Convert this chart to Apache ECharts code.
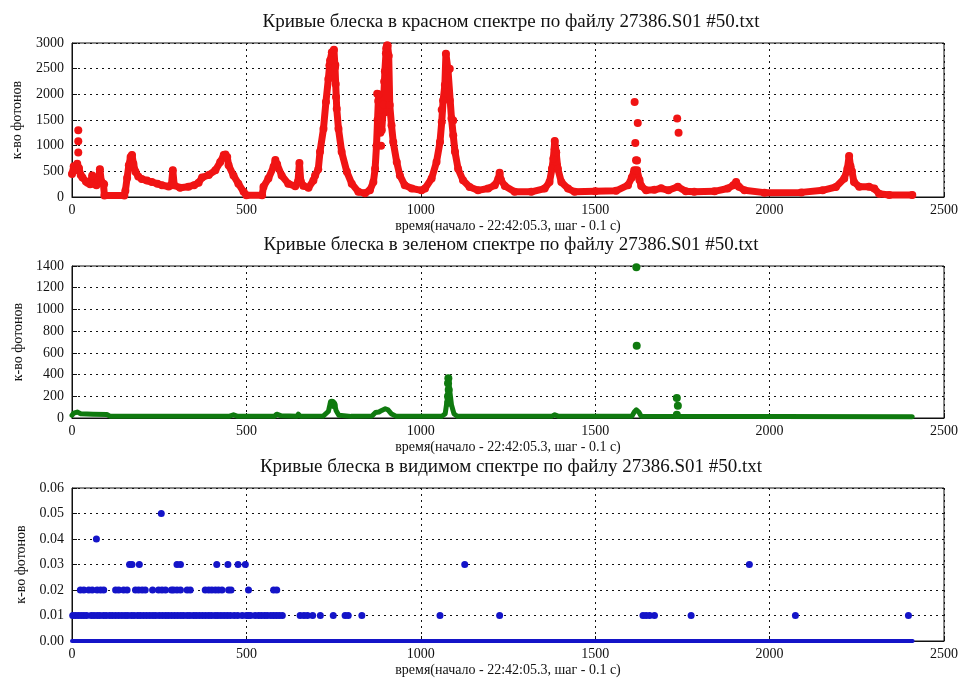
<!DOCTYPE html>
<html>
<head>
<meta charset="utf-8">
<script src="https://cdn.jsdelivr.net/npm/echarts@6/dist/echarts.min.js"></script>
<style>
  html, body { margin: 0; padding: 0; background: #fff; }
  #chart { width: 958px; height: 682px; }
</style>
</head>
<body>
<div id="chart"></div>
<script>
// подписи
const titles = [
  'Кривые блеска в красном спектре по файлу 27386.S01 #50.txt',
  'Кривые блеска в зеленом спектре по файлу 27386.S01 #50.txt',
  'Кривые блеска в видимом спектре по файлу 27386.S01 #50.txt'
];
const xName = 'время(начало - 22:42:05.3, шаг - 0.1 с)';
const yName = 'к-во фотонов';
const xTicks = [0, 500, 1000, 1500, 2000, 2500];

// красный: основная кривая (сплошная полоса точек) [время, фотоны]
const redTrace = [
  [0, 450], [5, 600], [10, 520], [15, 650], [20, 560], [25, 430], [30, 380], [40, 300],
  [45, 280], [52, 250], [58, 420], [62, 260], [70, 230], [76, 330], [80, 540], [84, 300],
  [90, 260], [92, 250], [93, 30], [150, 30], [153, 120], [158, 370], [163, 620], [168, 780],
  [172, 820], [176, 650], [182, 490], [190, 400], [200, 350], [215, 320], [229, 290],
  [245, 260], [258, 230], [277, 205], [285, 230], [289, 520], [293, 230], [310, 180],
  [334, 200], [350, 230], [363, 280], [373, 380], [392, 430], [411, 520], [425, 680],
  [435, 820], [440, 830], [445, 780], [449, 620], [463, 420], [477, 260], [492, 100],
  [500, 35], [545, 35], [549, 200], [563, 360], [578, 590], [583, 720], [588, 640],
  [601, 420], [620, 260], [640, 210], [648, 300], [652, 660], [656, 300], [663, 220],
  [678, 180], [692, 320], [697, 420], [706, 540], [711, 880], [721, 1330], [728, 1850],
  [735, 2300], [740, 2660], [745, 2820], [751, 2870], [754, 2530], [756, 2200], [759, 1720],
  [764, 1330], [773, 880], [788, 490], [802, 260], [821, 100], [840, 75], [854, 130],
  [864, 290], [869, 550], [873, 1000], [876, 1500], [879, 2000], [883, 1700], [888, 1300],
  [893, 1800], [897, 2450], [901, 2900], [905, 2950], [908, 2750], [911, 1790], [916, 1400],
  [921, 1070], [931, 680], [940, 420], [954, 230], [974, 165], [1002, 130], [1012, 165],
  [1031, 360], [1045, 680], [1055, 1070], [1060, 1460], [1064, 1880], [1069, 2180],
  [1072, 2790], [1078, 2470], [1083, 2500], [1088, 1530], [1093, 1200], [1098, 880],
  [1107, 550], [1121, 325], [1140, 195], [1164, 130], [1193, 165], [1212, 230], [1222, 350],
  [1226, 470], [1230, 330], [1241, 215], [1269, 100], [1317, 100], [1355, 165], [1369, 290],
  [1376, 550], [1380, 750], [1384, 1090], [1388, 870], [1393, 550], [1403, 290], [1422, 165],
  [1441, 100], [1500, 110], [1560, 120], [1594, 230], [1605, 380], [1612, 520], [1620, 520],
  [1627, 330], [1632, 215], [1646, 130], [1670, 140], [1689, 170], [1710, 130], [1737, 200],
  [1760, 110], [1784, 100], [1842, 110], [1880, 165], [1896, 230], [1904, 290], [1912, 200],
  [1928, 130], [1985, 85], [2091, 90], [2152, 130], [2190, 195], [2214, 360], [2223, 550],
  [2228, 800], [2232, 600], [2236, 500], [2242, 290], [2257, 200], [2285, 200], [2300, 165],
  [2314, 65], [2343, 40], [2409, 40]
];
// красный: отдельные точки
const redDots = [
  [18, 1300], [18, 1085], [18, 865], [738, 2560], [745, 2680], [748, 2800], [755, 2570],
  [757, 1950], [875, 2010], [878, 1870], [880, 1600], [884, 1250], [886, 1000], [898, 1650],
  [895, 2250], [900, 2800], [903, 2950], [1060, 1700], [1074, 2480], [1083, 1880],
  [1093, 1490], [1384, 930], [1388, 860], [1386, 730], [1390, 620], [1613, 1850],
  [1622, 1440], [1615, 1050], [1617, 715], [1620, 710], [1735, 1530], [1739, 1250]
];

// зеленый
const greenTrace = [
  [0, 25], [5, 45], [15, 55], [25, 40], [60, 35], [100, 32], [110, 15], [450, 15], [463, 30],
  [475, 15], [580, 15], [587, 35], [600, 20], [645, 15], [649, 35], [655, 15], [720, 18],
  [735, 60], [740, 130], [745, 150], [752, 140], [757, 70], [765, 25], [800, 15], [860, 18],
  [870, 50], [880, 55], [888, 70], [898, 85], [906, 75], [915, 40], [930, 15], [1060, 15],
  [1070, 40], [1075, 150], [1078, 250], [1080, 355], [1083, 250], [1088, 120], [1095, 40],
  [1105, 15], [1222, 15], [1227, 30], [1232, 15], [1375, 15], [1384, 30], [1395, 15],
  [1605, 15], [1612, 55], [1618, 75], [1625, 55], [1632, 15], [2409, 12]
];
const greenDots = [
  [1618, 1388], [1619, 665], [1734, 184], [1737, 113], [1734, 30],
  [1079, 365], [1078, 320], [1080, 260], [1078, 200], [1079, 140], [745, 140], [750, 120]
];

// видимый
const blueZero = [[0, 0], [2410, 0]];
const blue001 = [2, 10, 18, 26, 34, 42, 55, 63, 72, 80, 90, 98, 108, 116, 125, 134, 143, 152,
  160, 170, 178, 188, 196, 205, 214, 223, 232, 240, 250, 259, 268, 276, 285, 294, 303, 312,
  320, 330, 338, 348, 356, 365, 374, 383, 392, 400, 410, 418, 427, 436, 445, 454, 465, 475,
  488, 500, 506, 512, 525, 535, 543, 552, 560, 570, 578, 586, 594, 603, 654, 665, 675, 690,
  712, 749, 783, 792, 831, 1055, 1226, 1637, 1646, 1656, 1670, 1775, 2074, 2398];
const blue002 = [24, 34, 48, 58, 72, 82, 91, 125, 134, 148, 158, 182, 191, 201, 210, 231,
  248, 258, 268, 285, 291, 301, 311, 330, 339, 382, 392, 401, 411, 420, 430, 449, 456, 506,
  578, 587];
const blue003 = [165, 172, 193, 301, 311, 415, 447, 476, 497, 1126, 1942];
const blue004 = [70];
const blue005 = [256];

const RED = '#f01414', GREEN = '#0f7a0f', BLUE = '#1414c8';
const serif = 'Liberation Serif';

const panels = [
  { top: 43, height: 154, max: 3000, interval: 500, gap: 48, fmt: v => String(v) },
  { top: 266, height: 152, max: 1400, interval: 200, gap: 45, fmt: v => String(v) },
  { top: 488, height: 153, max: 0.06, interval: 0.01, gap: 42, fmt: v => v.toFixed(2) }
];

const chart = echarts.init(document.getElementById('chart'));

const grid = [], xAxis = [], yAxis = [], title = [];
panels.forEach((p, i) => {
  grid.push({ left: 72, right: 14, top: p.top, height: p.height, show: true,
    outerBoundsMode: 'none', containLabel: false,
    borderColor: '#111', borderWidth: 1, backgroundColor: '#fff' });
  title.push({ text: titles[i], left: 506, top: p.top - 35, textAlign: 'center',
    textStyle: { fontFamily: serif, fontSize: 19, fontWeight: 'normal', color: '#111' } });
  xAxis.push({
    gridIndex: i, type: 'value', min: 0, max: 2500, interval: 500,
    name: xName, nameLocation: 'middle', nameGap: 22,
    nameTextStyle: { fontFamily: serif, fontSize: 14, color: '#111' },
    axisLine: { lineStyle: { color: '#111' } },
    axisTick: { inside: true, length: 5, lineStyle: { color: '#111' } },
    axisLabel: { margin: 6, fontFamily: serif, fontSize: 14, color: '#111',
      formatter: v => String(v) },
    splitLine: { show: true, lineStyle: { color: '#111', type: [2, 4], width: 1 } }
  });
  yAxis.push({
    gridIndex: i, type: 'value', min: 0, max: p.max, interval: p.interval,
    name: yName, nameLocation: 'middle', nameGap: p.gap, nameRotate: 90,
    nameTextStyle: { fontFamily: serif, fontSize: 14, color: '#111' },
    axisLine: { show: true, lineStyle: { color: '#111' } },
    axisTick: { inside: true, length: 5, lineStyle: { color: '#111' } },
    axisLabel: { margin: 8, fontFamily: serif, fontSize: 14, color: '#111', formatter: p.fmt },
    splitLine: { show: true, lineStyle: { color: '#111', type: [2, 4], width: 1 } }
  });
});

function trace(data, idx, color, width, size) {
  return { type: 'line', xAxisIndex: idx, yAxisIndex: idx, data: data, clip: false,
    symbol: 'circle', symbolSize: size, showSymbol: size > 0, itemStyle: { color: color },
    lineStyle: { color: color, width: width, cap: 'round', join: 'round' },
    animation: false, silent: true };
}
function dots(data, idx, color, size) {
  return { type: 'scatter', xAxisIndex: idx, yAxisIndex: idx, data: data, clip: false,
    symbolSize: size, itemStyle: { color: color, opacity: 1 }, animation: false, silent: true };
}
function level(xs, y) { return xs.map(x => [x, y]); }

chart.setOption({
  backgroundColor: '#fff',
  title: title,
  grid: grid,
  xAxis: xAxis,
  yAxis: yAxis,
  series: [
    trace(redTrace, 0, RED, 7, 8),
    dots(redDots, 0, RED, 8),
    trace(greenTrace, 1, GREEN, 5, 0),
    dots(greenDots, 1, GREEN, 8),
    trace(blueZero, 2, BLUE, 4, 0),
    dots(level(blue001, 0.01), 2, BLUE, 7),
    dots(level(blue002, 0.02), 2, BLUE, 7),
    dots(level(blue003, 0.03), 2, BLUE, 7),
    dots(level(blue004, 0.04), 2, BLUE, 7),
    dots(level(blue005, 0.05), 2, BLUE, 7)
  ]
});
</script>
</body>
</html>
